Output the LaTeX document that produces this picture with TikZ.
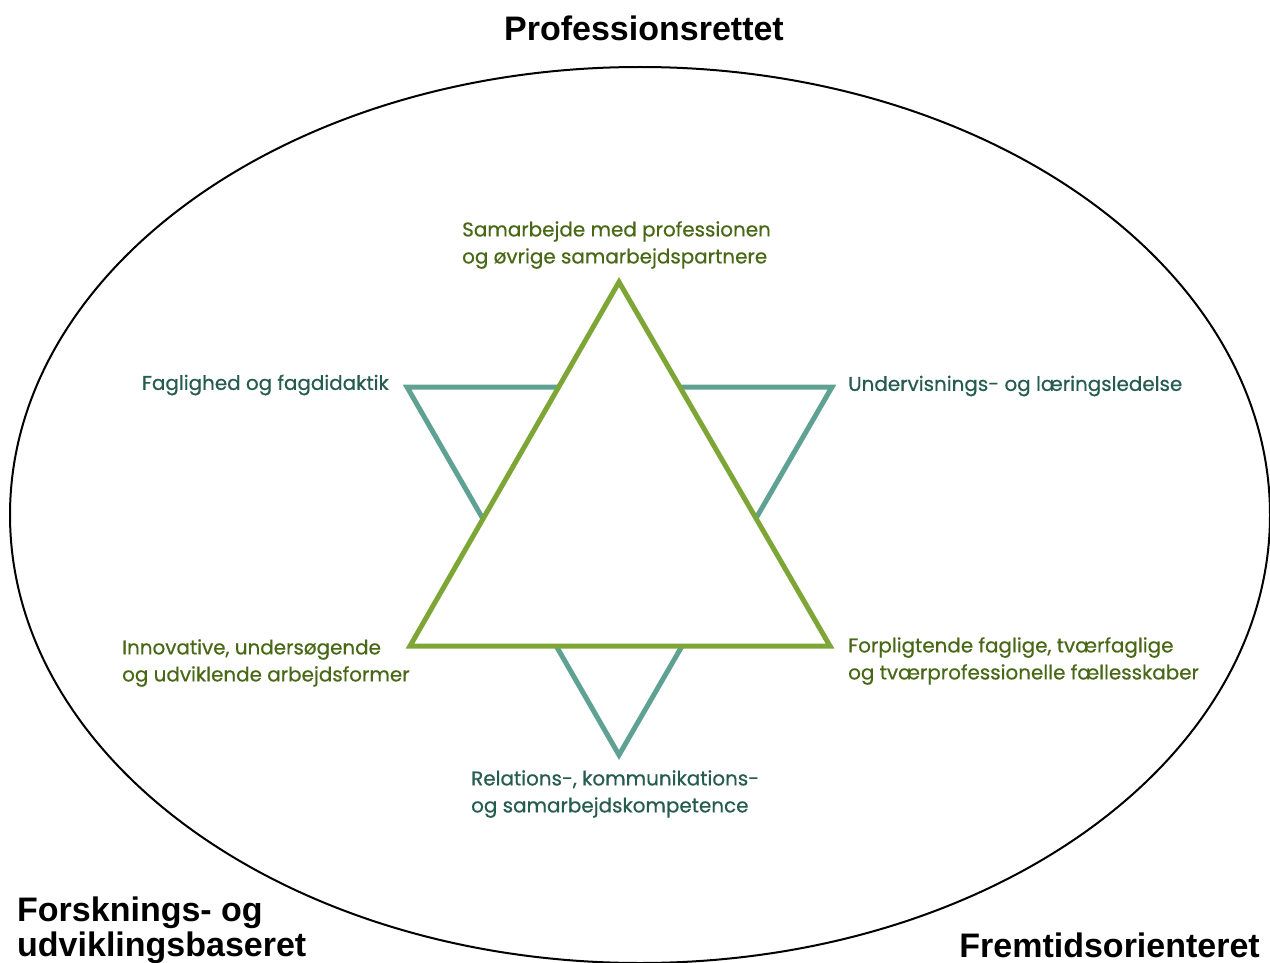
\documentclass[tikz,border=0pt]{standalone}
\usepackage{fontspec}
\setmainfont{Poppins}[FakeBold=0.6]
\newfontfamily\titlefont{Liberation Sans}
\definecolor{starGreen}{RGB}{125,166,55}
\definecolor{starTeal}{RGB}{95,162,147}
\definecolor{txtGreen}{RGB}{72,104,22}
\definecolor{txtTeal}{RGB}{38,92,78}
\tikzset{
  lbl/.style={inner sep=0pt, font=\fontsize{19.9}{27}\selectfont, align=left},
  glbl/.style={lbl, text=txtGreen},
  tlbl/.style={lbl, text=txtTeal},
  ttl/.style={inner sep=0pt, font=\titlefont\bfseries\fontsize{34}{35.5}\selectfont, text=black},
}
\begin{document}
\begin{tikzpicture}[x=1pt,y=-1pt]
\useasboundingbox (0,0) rectangle (1270,963);
\begin{scope}
\clip (0,0) rectangle (1270,963);
\draw[line width=2pt] (640,515) ellipse [x radius=630, y radius=448];
\end{scope}
% teal inverted triangle
\draw[starTeal, line width=5pt, line join=miter] (407,387) -- (832,387) -- (619,755) -- cycle;
% green upright triangle
\draw[starGreen, fill=white, line width=5pt, line join=miter] (619,282) -- (830,646) -- (410,646) -- cycle;
% labels
\node[glbl, anchor=west] (samarbejde) at (462,245) {Samarbejde med professionen\\og øvrige samarbejdspartnere};
\node[tlbl, anchor=east] (faglighed) at (389,385) {Faglighed og fagdidaktik};
\node[tlbl, anchor=west] (undervisning) at (848,386) {Undervisnings- og læringsledelse};
\node[glbl, anchor=west] (innovative) at (122,663) {Innovative, undersøgende\\og udviklende arbejdsformer};
\node[glbl, anchor=west] (forpligtende) at (848,661) {Forpligtende faglige, tværfaglige\\og tværprofessionelle fællesskaber};
\node[tlbl, anchor=west] (relations) at (471,794) {Relations-, kommunikations-\\og samarbejdskompetence};
% titles
\node[ttl, anchor=center] (profession) at (644,28) {Professionsrettet};
\node[ttl, anchor=west, align=left] (forskning) at (17,930.5) {Forsknings- og\\udviklingsbaseret};
\node[ttl, anchor=east] (fremtid) at (1260,945) {Fremtidsorienteret};
\end{tikzpicture}
\end{document}
